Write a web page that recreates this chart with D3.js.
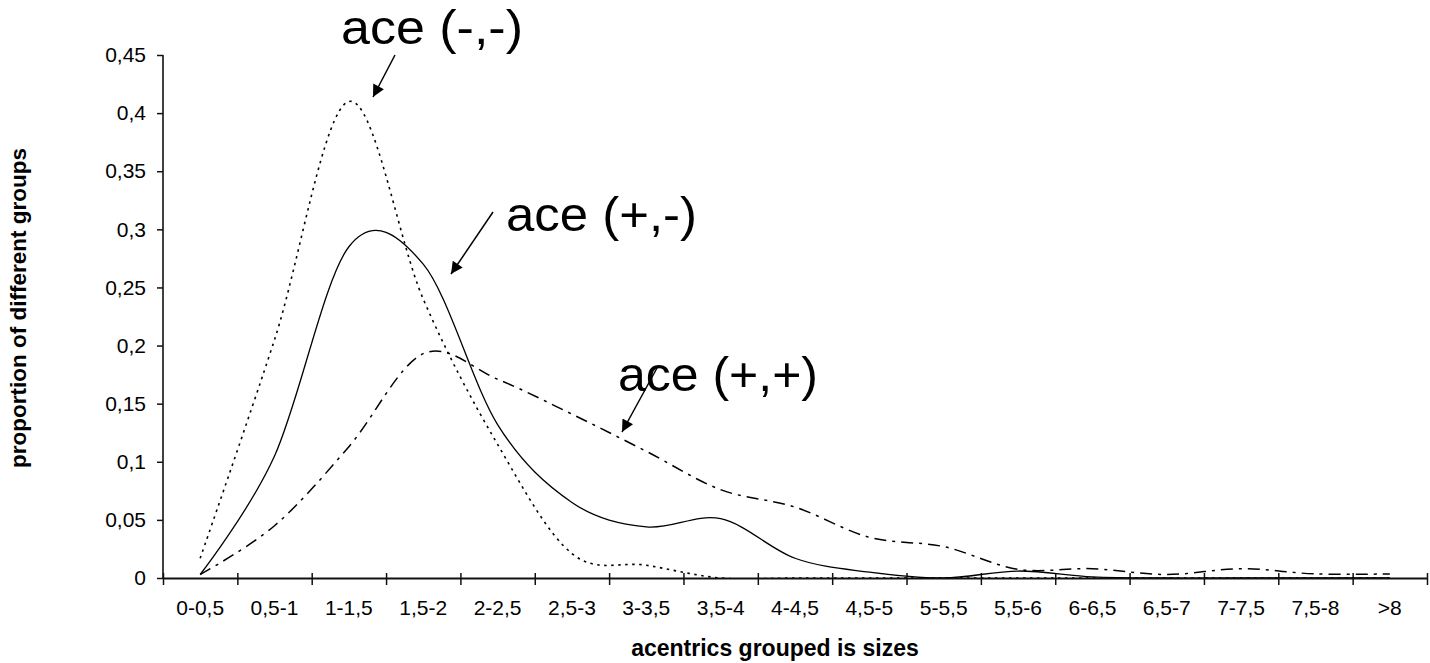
<!DOCTYPE html>
<html>
<head>
<meta charset="utf-8">
<script src="https://cdn.jsdelivr.net/npm/d3@7"></script>
<style>
  body { margin: 0; background: #fff; }
  text { font-family: "Liberation Sans", Arial, sans-serif; fill: #000; }
</style>
</head>
<body>
<div id="chart-area"></div>
<script>
// size groups on the x axis
var categories = ["0-0,5", "0,5-1", "1-1,5", "1,5-2", "2-2,5", "2,5-3", "3-3,5", "3,5-4",
    "4-4,5", "4,5-5", "5-5,5", "5,5-6", "6-6,5", "6,5-7", "7-7,5", "7,5-8", ">8"];

// proportions
var aceMinusMinus = [0.017, 0.205, 0.41, 0.24, 0.115, 0.021, 0.011, 0, 0, 0, 0, 0, 0, 0, 0, 0, 0];
var acePlusMinus  = [0.003, 0.105, 0.285, 0.27, 0.132, 0.065, 0.044, 0.051, 0.017, 0.005, 0, 0.006, 0.001, 0, 0, 0, 0];
var acePlusPlus   = [0.003, 0.045, 0.113, 0.193, 0.171, 0.141, 0.109, 0.076, 0.061, 0.035, 0.027, 0.0075, 0.008, 0.003, 0.008, 0.0035, 0.0035];

var yTickValues = [0, 0.05, 0.1, 0.15, 0.2, 0.25, 0.3, 0.35, 0.4, 0.45];

var width = 1430;
var height = 663;

var svg = d3.select("#chart-area").append("svg")
    .attr("width", width)
    .attr("height", height);

svg.append("rect")
    .attr("width", width)
    .attr("height", height)
    .attr("fill", "#fff");

var x = d3.scaleBand()
    .domain(categories)
    .range([163, 1427])
    .padding(0);

var xEdge = d3.scaleLinear()
    .domain([0, categories.length])
    .range([163, 1427]);

var y = d3.scaleLinear()
    .domain([0, 0.45])
    .range([578, 55]);

var comma = (d) => String(d).replace(".", ",");

// clip so the smoothed tails stop at the x axis
svg.append("defs").append("clipPath")
    .attr("id", "plot-clip")
  .append("rect")
    .attr("x", 163)
    .attr("y", 0)
    .attr("width", 1427 - 163)
    .attr("height", 578);

svg.select("defs").append("marker")
    .attr("id", "arrow")
    .attr("markerUnits", "userSpaceOnUse")
    .attr("viewBox", "0 0 10 10")
    .attr("refX", 10)
    .attr("refY", 5)
    .attr("markerWidth", 16)
    .attr("markerHeight", 12)
    .attr("orient", "auto")
  .append("path")
    .attr("d", "M0,0 L10,5 L0,10 z")
    .attr("fill", "#000");

// Y axis
var leftAxis = d3.axisLeft(y)
    .tickValues(yTickValues)
    .tickSize(6)
    .tickPadding(11)
    .tickFormat(comma);

var gy = svg.append("g")
    .attr("class", "left axis")
    .attr("transform", "translate(163, 0)")
    .call(leftAxis);
gy.select(".domain").attr("stroke", "#111").attr("stroke-width", 1.6).attr("d", "M0,55V578");
gy.selectAll(".tick line").attr("stroke", "#111").attr("stroke-width", 1.5);
gy.selectAll(".tick text")
    .attr("font-size", "21px")
    .attr("font-family", "Liberation Sans, Arial, sans-serif")
    .attr("fill", "#000");

// X axis: ticks on the group edges, labels in the middle
var bottomAxis = d3.axisBottom(xEdge)
    .tickValues(d3.range(categories.length + 1))
    .tickSize(0)
    .tickFormat("");

var gx = svg.append("g")
    .attr("class", "bottom axis")
    .attr("transform", "translate(0, 578)")
    .call(bottomAxis);
gx.select(".domain").attr("stroke", "#111").attr("stroke-width", 2);
gx.selectAll(".tick line")
    .attr("y1", -5)
    .attr("y2", 7)
    .attr("stroke", "#111")
    .attr("stroke-width", 1.5);

gx.selectAll(".cat-label")
    .data(categories)
    .enter()
    .append("text")
    .attr("class", "cat-label")
    .attr("x", (d) => x(d) + x.bandwidth() / 2)
    .attr("y", 37)
    .attr("text-anchor", "middle")
    .attr("font-size", "21px")
    .text((d) => d);

// axis titles
svg.append("text")
    .attr("class", "x axis-label")
    .attr("x", 775)
    .attr("y", 656)
    .attr("font-size", "23px")
    .attr("font-weight", "bold")
    .attr("text-anchor", "middle")
    .text("acentrics grouped is sizes");

svg.append("text")
    .attr("class", "y axis-label")
    .attr("x", -308)
    .attr("y", 26)
    .attr("font-size", "22.5px")
    .attr("font-weight", "bold")
    .attr("text-anchor", "middle")
    .attr("transform", "rotate(-90)")
    .text("proportion of different groups");

// lines
var line = d3.line()
    .x((d, i) => x(categories[i]) + x.bandwidth() / 2)
    .y((d) => y(d))
    .curve(d3.curveCardinal.tension(0));

var series = [
    { values: aceMinusMinus, dash: "2.5,4.5", w: 1.6 },
    { values: acePlusMinus, dash: null, w: 1.3 },
    { values: acePlusPlus, dash: "12,6,3,6", w: 1.5 }
];

var lines = svg.append("g").attr("clip-path", "url(#plot-clip)");
lines.selectAll("path")
    .data(series)
    .enter()
    .append("path")
    .attr("d", (d) => line(d.values))
    .attr("fill", "none")
    .attr("stroke", "#000")
    .attr("stroke-width", (d) => d.w)
    .attr("stroke-dasharray", (d) => d.dash);

// annotations
var notes = [
    { text: "ace (-,-)", tx: 341, ty: 44, len: 182, x1: 395, y1: 55, x2: 373, y2: 97 },
    { text: "ace (+,-)", tx: 506, ty: 231, len: 191, x1: 493, y1: 212, x2: 451, y2: 274 },
    { text: "ace (+,+)", tx: 618, ty: 391, len: 200, x1: 657, y1: 368, x2: 622, y2: 432 }
];

svg.selectAll(".note")
    .data(notes)
    .enter()
    .append("text")
    .attr("class", "note")
    .attr("x", (d) => d.tx)
    .attr("y", (d) => d.ty)
    .attr("font-size", "48px")
    .attr("textLength", (d) => d.len)
    .attr("lengthAdjust", "spacingAndGlyphs")
    .text((d) => d.text);

svg.selectAll(".note-arrow")
    .data(notes)
    .enter()
    .append("line")
    .attr("class", "note-arrow")
    .attr("x1", (d) => d.x1)
    .attr("y1", (d) => d.y1)
    .attr("x2", (d) => d.x2)
    .attr("y2", (d) => d.y2)
    .attr("stroke", "#000")
    .attr("stroke-width", 1.5)
    .attr("marker-end", "url(#arrow)");
</script>
</body>
</html>
